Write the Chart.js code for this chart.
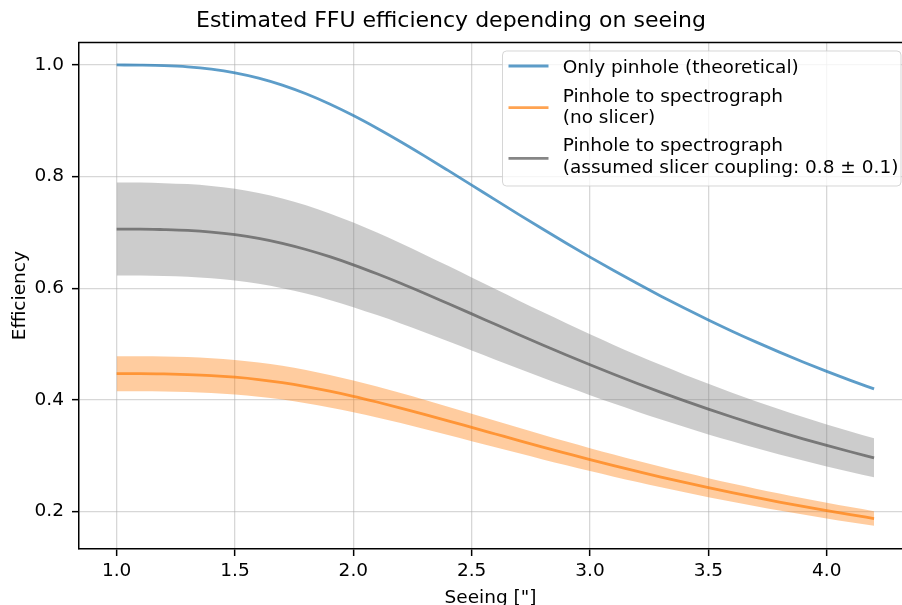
<!DOCTYPE html>
<html>
<head>
<meta charset="utf-8">
<script src="https://cdn.jsdelivr.net/npm/chart.js@4.4.1/dist/chart.umd.min.js"></script>
<style>
  html, body { margin: 0; padding: 0; background: #fff; overflow: hidden; }
  #wrap { width: 902px; height: 605px; }
</style>
</head>
<body>
<div id="wrap"><canvas id="chart" width="902" height="605"></canvas></div>
<script>
'use strict';

/*----data----*/
var seeing = [1.0, 1.1, 1.2, 1.3, 1.4, 1.5, 1.6, 1.7, 1.8, 1.9, 2.0, 2.1, 2.2, 2.3, 2.4, 2.5, 2.6,
  2.7, 2.8, 2.9, 3.0, 3.1, 3.2, 3.3, 3.4, 3.5, 3.6, 3.7, 3.8, 3.9, 4.0, 4.1, 4.2];

var onlyPinhole = [1.000, 0.9996, 0.9987, 0.9966, 0.9925, 0.986, 0.9765, 0.9639, 0.9483, 0.930,
  0.9093, 0.8866, 0.8624, 0.8371, 0.8111, 0.7848, 0.7583, 0.732, 0.7061, 0.6807, 0.6558,
  0.6317, 0.6084, 0.5858, 0.5641, 0.5433, 0.5232, 0.504, 0.4856, 0.468, 0.4512, 0.4351, 0.4197];

var noSlicer = [0.447, 0.447, 0.4465, 0.4455, 0.4437, 0.4407, 0.4365, 0.4309, 0.4239, 0.4157,
  0.4065, 0.3963, 0.3855, 0.3742, 0.3626, 0.3508, 0.3390, 0.3272, 0.3156, 0.3043, 0.2931,
  0.2824, 0.2720, 0.2618, 0.2522, 0.2429, 0.2339, 0.2253, 0.2171, 0.2092, 0.2017, 0.1945, 0.1876];
var noSlicerHigh = [0.4783, 0.4783, 0.4778, 0.4767, 0.4748, 0.4715, 0.4671, 0.4611, 0.4536, 0.4448,
  0.4350, 0.4240, 0.4125, 0.4004, 0.3880, 0.3754, 0.3627, 0.3501, 0.3377, 0.3256, 0.3136,
  0.3022, 0.2910, 0.2801, 0.2699, 0.2599, 0.2503, 0.2411, 0.2323, 0.2238, 0.2158, 0.2081, 0.2007];
var noSlicerLow = [0.4157, 0.4157, 0.4152, 0.4143, 0.4126, 0.4099, 0.4059, 0.4007, 0.3942, 0.3866,
  0.3780, 0.3686, 0.3585, 0.3480, 0.3372, 0.3262, 0.3153, 0.3043, 0.2935, 0.2830, 0.2726,
  0.2626, 0.2530, 0.2435, 0.2345, 0.2259, 0.2175, 0.2095, 0.2019, 0.1946, 0.1876, 0.1809, 0.1745];

var withSlicer = [0.706, 0.706, 0.7051, 0.7036, 0.7007, 0.6961, 0.6894, 0.6805, 0.6695, 0.6566,
  0.6420, 0.6259, 0.6089, 0.5910, 0.5726, 0.5541, 0.5354, 0.5168, 0.4985, 0.4806, 0.4630,
  0.4460, 0.4295, 0.4136, 0.3983, 0.3836, 0.3694, 0.3558, 0.3428, 0.3304, 0.3185, 0.3072, 0.2963];
var withSlicerHigh = [0.7893, 0.7893, 0.7883, 0.7866, 0.7834, 0.7782, 0.7707, 0.7608, 0.7485, 0.7341,
  0.7178, 0.6998, 0.6807, 0.6607, 0.6402, 0.6195, 0.5986, 0.5778, 0.5573, 0.5373, 0.5176,
  0.4986, 0.4802, 0.4624, 0.4453, 0.4289, 0.4130, 0.3978, 0.3833, 0.3694, 0.3561, 0.3434, 0.3313];
var withSlicerLow = [0.6227, 0.6227, 0.6219, 0.6206, 0.6180, 0.6140, 0.6081, 0.6002, 0.5905, 0.5791,
  0.5662, 0.5520, 0.5371, 0.5213, 0.5050, 0.4887, 0.4722, 0.4558, 0.4397, 0.4239, 0.4084,
  0.3934, 0.3788, 0.3648, 0.3513, 0.3383, 0.3258, 0.3138, 0.3023, 0.2914, 0.2809, 0.2710, 0.2613];

var xTicks = [1.0, 1.5, 2.0, 2.5, 3.0, 3.5, 4.0];
var yTicks = [0.2, 0.4, 0.6, 0.8, 1.0];

var legendItems = [
  { lines: ['Only pinhole (theoretical)'], color: 'rgba(31,119,180,0.72)' },
  { lines: ['Pinhole to spectrograph', '(no slicer)'], color: 'rgba(255,127,14,0.72)' },
  { lines: ['Pinhole to spectrograph', '(assumed slicer coupling: 0.8 \u00b1 0.1)'], color: 'rgba(88,88,88,0.72)' }
];

function pts(arr) {
  return arr.map(function (v, i) { return { x: seeing[i], y: v }; });
}

var FONT = 'DejaVu Sans';
Chart.defaults.font.family = FONT;
Chart.defaults.color = '#000';

/*----frame + legend----*/
var extras = {
  id: 'extras',
  afterDraw: function (chart) {
    var c = chart.ctx, a = chart.chartArea;
    c.save();
    c.strokeStyle = '#000';
    c.lineWidth = 1.5;
    c.beginPath();
    c.moveTo(a.left - 0.75, a.top);
    c.lineTo(a.right, a.top);
    c.stroke();

    // legend box
    var bx = 502.5, by = 51, bw = 398.5, bh = 135, r = 4;
    c.beginPath();
    c.moveTo(bx + r, by);
    c.arcTo(bx + bw, by, bx + bw, by + bh, r);
    c.arcTo(bx + bw, by + bh, bx, by + bh, r);
    c.arcTo(bx, by + bh, bx, by, r);
    c.arcTo(bx, by, bx + bw, by, r);
    c.closePath();
    c.fillStyle = 'rgba(255,255,255,0.8)';
    c.fill();
    c.strokeStyle = 'rgba(204,204,204,0.8)';
    c.lineWidth = 1;
    c.stroke();

    var handleY = [66, 107.7, 158.3];
    var baselines = [[73.3], [101.6, 123], [151, 172.5]];
    c.font = '18.5px "' + FONT + '"';
    c.textBaseline = 'alphabetic';
    c.textAlign = 'left';
    legendItems.forEach(function (it, i) {
      c.strokeStyle = it.color;
      c.lineWidth = 2.8;
      c.beginPath();
      c.moveTo(508.5, handleY[i]);
      c.lineTo(548.5, handleY[i]);
      c.stroke();
      c.fillStyle = '#000';
      it.lines.forEach(function (t, j) {
        c.fillText(t, 562.7, baselines[i][j]);
      });
    });
    c.restore();
  }
};

function lineSet(arr, color) {
  return {
    data: pts(arr),
    borderColor: color,
    borderWidth: 2.8,
    pointRadius: 0,
    cubicInterpolationMode: 'monotone',
    fill: false
  };
}

function bandSet(arr, fillColor) {
  return {
    data: pts(arr),
    borderColor: 'transparent',
    borderWidth: 0,
    pointRadius: 0,
    cubicInterpolationMode: 'monotone',
    backgroundColor: fillColor || 'transparent',
    fill: fillColor ? '+1' : false
  };
}

var ctx = document.getElementById('chart').getContext('2d');
var myChart = new Chart(ctx, {
  type: 'line',
  data: {
    datasets: [
      lineSet(onlyPinhole, legendItems[0].color),
      lineSet(noSlicer, legendItems[1].color),
      lineSet(withSlicer, legendItems[2].color),
      bandSet(noSlicerHigh, 'rgba(255,127,14,0.4)'),
      bandSet(noSlicerLow),
      bandSet(withSlicerHigh, 'rgba(127,127,127,0.4)'),
      bandSet(withSlicerLow)
    ]
  },
  options: {
    responsive: false,
    animation: false,
    devicePixelRatio: 1,
    layout: { padding: { left: 0, right: 0, top: 8, bottom: 0 } },
    plugins: {
      legend: { display: false },
      tooltip: { enabled: false },
      title: {
        display: true,
        text: 'Estimated FFU efficiency depending on seeing',
        font: { size: 22, weight: 'normal' },
        color: '#000',
        padding: { top: 0, bottom: 8 }
      }
    },
    scales: {
      x: {
        type: 'linear',
        min: 0.841,
        max: 4.318,
        afterBuildTicks: function (s) { s.ticks = xTicks.map(function (v) { return { value: v }; }); },
        afterFit: function (s) { s.height = 56; },
        ticks: {
          font: { size: 18.5 },
          color: '#000',
          padding: 4,
          maxRotation: 0,
          callback: function (v) { return v.toFixed(1); }
        },
        grid: {
          color: 'rgba(176,176,176,0.5)',
          lineWidth: 1.3,
          tickColor: '#000',
          tickLength: 7,
          tickWidth: 1.5
        },
        border: { color: '#000', width: 1.5 },
        title: {
          display: true,
          text: 'Seeing ["]',
          font: { size: 18.5 },
          color: '#000',
          padding: { top: 0, bottom: -4 }
        }
      },
      y: {
        min: 0.133,
        max: 1.0404,
        afterBuildTicks: function (s) { s.ticks = yTicks.map(function (v) { return { value: v }; }); },
        afterFit: function (s) { s.width = 79; },
        ticks: {
          font: { size: 18.5 },
          color: '#000',
          padding: 8,
          callback: function (v) { return v.toFixed(1); }
        },
        grid: {
          color: 'rgba(176,176,176,0.5)',
          lineWidth: 1.3,
          tickColor: '#000',
          tickLength: 7,
          tickWidth: 1.5
        },
        border: { color: '#000', width: 1.5 },
        title: {
          display: true,
          text: 'Efficiency',
          font: { size: 18.5 },
          color: '#000',
          padding: { top: 9, bottom: 0 }
        }
      }
    }
  },
  plugins: [extras]
});
</script>
</body>
</html>
